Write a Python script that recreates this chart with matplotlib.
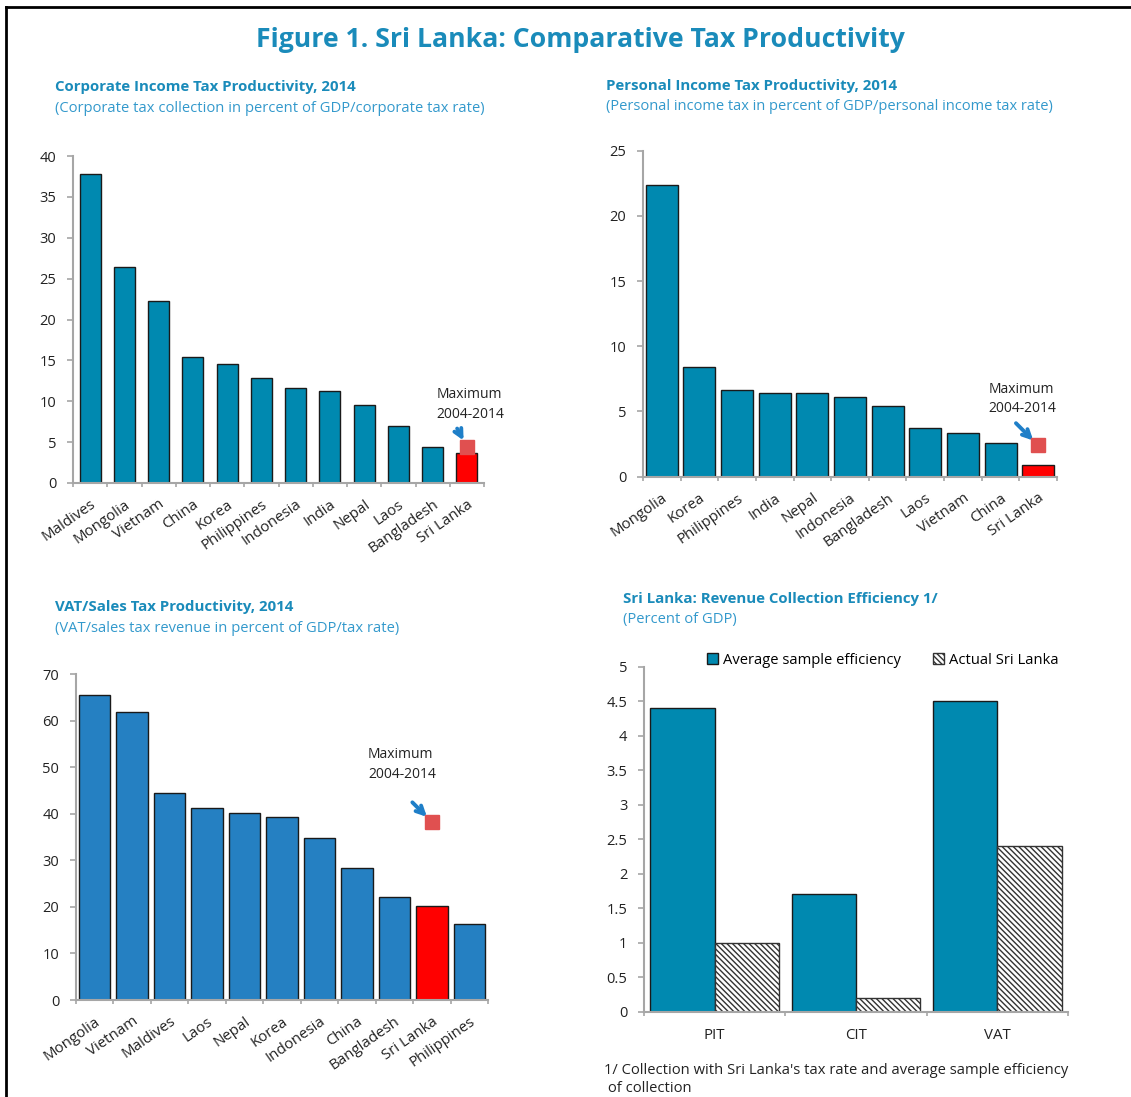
import numpy as np
import matplotlib.pyplot as plt
from matplotlib.lines import Line2D
from matplotlib.patches import Patch

plt.rcParams['font.family'] = ['Open Sans', 'DejaVu Sans']
plt.rcParams['hatch.linewidth'] = 1.0
plt.rcParams['hatch.color'] = '#444444'

# Corporate income tax productivity, 2014
cit_countries = ['Maldives', 'Mongolia', 'Vietnam', 'China', 'Korea', 'Philippines',
                 'Indonesia', 'India', 'Nepal', 'Laos', 'Bangladesh', 'Sri Lanka']
cit_values = [37.8, 26.4, 22.3, 15.4, 14.6, 12.9, 11.6, 11.2, 9.6, 7.0, 4.4, 3.7]
cit_max = 4.45

# Personal income tax productivity, 2014
pit_countries = ['Mongolia', 'Korea', 'Philippines', 'India', 'Nepal', 'Indonesia',
                 'Bangladesh', 'Laos', 'Vietnam', 'China', 'Sri Lanka']
pit_values = [22.4, 8.4, 6.65, 6.4, 6.4, 6.1, 5.4, 3.7, 3.35, 2.55, 0.9]
pit_max = 2.4

# VAT/sales tax productivity, 2014
vat_countries = ['Mongolia', 'Vietnam', 'Maldives', 'Laos', 'Nepal', 'Korea',
                 'Indonesia', 'China', 'Bangladesh', 'Sri Lanka', 'Philippines']
vat_values = [65.5, 61.8, 44.4, 41.2, 40.1, 39.3, 34.8, 28.3, 22.1, 20.1, 16.3]
vat_max = 38.3

# Revenue collection efficiency
taxes = ['PIT', 'CIT', 'VAT']
avg_efficiency = [4.4, 1.7, 4.5]
actual_sri_lanka = [1.0, 0.2, 2.4]

TEAL = '#0089B0'
BLUE = '#2580C2'
RED = '#FF0000'
MAXRED = '#E05050'
ARROW = '#1F7FC8'
TITLE = '#1A8BBA'
SUB = '#3399CC'
GRAY = '#A6A6A6'
HATCH = '\\' * 6

W, H = 1131, 1097
fig = plt.figure(figsize=(W / 100, H / 100), dpi=100)


def box(l, r, b, t):
    return [l / W, 1 - b / H, (r - l) / W, (b - t) / H]


def style_axes(ax):
    for s in ['top', 'right']:
        ax.spines[s].set_visible(False)
    for s in ['left', 'bottom']:
        ax.spines[s].set_color(GRAY)
        ax.spines[s].set_linewidth(1.5)
    ax.tick_params(axis='y', colors=GRAY, labelcolor='#222222', labelsize=10.5,
                   length=4, width=1.2, pad=8)


def country_bars(ax, names, values, color, ymax, max_val, txt_off, arr_off, width=0.85):
    x = np.arange(len(names))
    colors = [RED if n == 'Sri Lanka' else color for n in names]
    ax.bar(x, values, width=width, color=colors, edgecolor='#1a1a1a', linewidth=1)
    ax.set_xlim(-0.5, len(names) - 0.5)
    ax.set_ylim(0, ymax)
    style_axes(ax)
    ax.set_xticks(x)
    ax.set_xticklabels(names, rotation=35, ha='right', rotation_mode='anchor',
                       fontsize=10.8, color='#222222')
    ax.tick_params(axis='x', which='major', length=0, pad=10)
    ax.set_xticks(np.arange(-0.5, len(names)), minor=True)
    ax.tick_params(axis='x', which='minor', length=3, color=GRAY, width=1.2)
    sl = names.index('Sri Lanka')
    ax.plot([sl], [max_val], marker='s', markersize=10, color=MAXRED,
            linestyle='none', zorder=5)
    ax.annotate('', xy=(sl, max_val), xytext=arr_off, textcoords='offset points',
                arrowprops=dict(arrowstyle='->', color=ARROW, lw=2.8,
                                shrinkA=0, shrinkB=5, mutation_scale=14))
    ax.annotate('Maximum\n2004-2014', xy=(sl, max_val), xytext=txt_off,
                textcoords='offset points', ha='left', va='bottom',
                fontsize=10, color='#222222', linespacing=1.4)
    return ax


# border lines
fig.add_artist(Line2D([6 / W, 1], [1 - 7 / H, 1 - 7 / H], color='black', lw=2))
fig.add_artist(Line2D([6 / W, 6 / W], [0, 1 - 7 / H], color='black', lw=2))

fig.text(580 / W, 1 - 40 / H, 'Figure 1. Sri Lanka: Comparative Tax Productivity',
         ha='center', va='center', fontsize=19.2, fontweight='bold', color=TITLE)

# panel titles
fig.text(55 / W, 1 - 87 / H, 'Corporate Income Tax Productivity, 2014',
         ha='left', va='center', fontsize=10.8, fontweight='bold', color=TITLE)
fig.text(55 / W, 1 - 108 / H, '(Corporate tax collection in percent of GDP/corporate tax rate)',
         ha='left', va='center', fontsize=10.6, color=SUB)
fig.text(606 / W, 1 - 86 / H, 'Personal Income Tax Productivity, 2014',
         ha='left', va='center', fontsize=10.8, fontweight='bold', color=TITLE)
fig.text(606 / W, 1 - 106 / H, '(Personal income tax in percent of GDP/personal income tax rate)',
         ha='left', va='center', fontsize=10.5, color=SUB)
fig.text(55 / W, 1 - 607 / H, 'VAT/Sales Tax Productivity, 2014',
         ha='left', va='center', fontsize=10.8, fontweight='bold', color=TITLE)
fig.text(55 / W, 1 - 628 / H, '(VAT/sales tax revenue in percent of GDP/tax rate)',
         ha='left', va='center', fontsize=10.6, color=SUB)
fig.text(623 / W, 1 - 599 / H, 'Sri Lanka: Revenue Collection Efficiency 1/',
         ha='left', va='center', fontsize=10.8, fontweight='bold', color=TITLE)
fig.text(623 / W, 1 - 619 / H, '(Percent of GDP)',
         ha='left', va='center', fontsize=10.6, color=SUB)

# panel 1
ax1 = fig.add_axes(box(73, 484, 483, 156))
country_bars(ax1, cit_countries, cit_values, TEAL, 40, cit_max, (-22, 18), (-7, 13),
             width=0.61)
ax1.set_yticks(np.arange(0, 41, 5))

# panel 2
ax2 = fig.add_axes(box(643, 1057, 476.7, 150.7))
country_bars(ax2, pit_countries, pit_values, TEAL, 25, pit_max, (-36, 21), (-16, 16))
ax2.set_yticks(np.arange(0, 26, 5))

# panel 3
ax3 = fig.add_axes(box(76, 488, 1000, 674.3))
country_bars(ax3, vat_countries, vat_values, BLUE, 70, vat_max, (-46, 29), (-14, 14),
             width=0.84)
ax3.set_yticks(np.arange(0, 71, 10))

# panel 4
ax4 = fig.add_axes(box(644, 1068, 1011.7, 666.7))
x = np.arange(len(taxes))
bw = 0.455
ax4.bar(x - bw / 2, avg_efficiency, width=bw, color=TEAL, edgecolor='#1a1a1a', linewidth=1)
ax4.bar(x + bw / 2, actual_sri_lanka, width=bw, color='white', edgecolor='#333333',
        linewidth=1, hatch=HATCH)
ax4.set_xlim(-0.5, 2.5)
ax4.set_ylim(0, 5)
style_axes(ax4)
ax4.set_yticks(np.arange(0, 5.01, 0.5))
ax4.set_yticklabels(['0', '0.5', '1', '1.5', '2', '2.5', '3', '3.5', '4', '4.5', '5'])
ax4.set_xticks(x)
ax4.set_xticklabels(taxes, fontsize=10.8, color='#222222')
ax4.tick_params(axis='x', which='major', length=0, pad=12)
ax4.set_xticks(np.arange(-0.5, 3), minor=True)
ax4.tick_params(axis='x', which='minor', length=3, color=GRAY, width=1.2)

handles = [Patch(facecolor=TEAL, edgecolor='#1a1a1a', label='Average sample efficiency'),
           Patch(facecolor='white', edgecolor='#333333', hatch=HATCH,
                 label='Actual Sri Lanka')]
fig.legend(handles=handles, loc='center left', bbox_to_anchor=(700 / W, 1 - 660 / H),
           ncol=2, frameon=False, fontsize=10.6, handlelength=0.75, handleheight=0.75,
           handletextpad=0.3, columnspacing=2.2, borderpad=0)

fig.text(604 / W, 1 - 1063 / H,
         "1/ Collection with Sri Lanka's tax rate and average sample efficiency\n of collection",
         ha='left', va='top', fontsize=10.6, color='#222222', linespacing=1.3)

fig.savefig('out.png', dpi=100)
